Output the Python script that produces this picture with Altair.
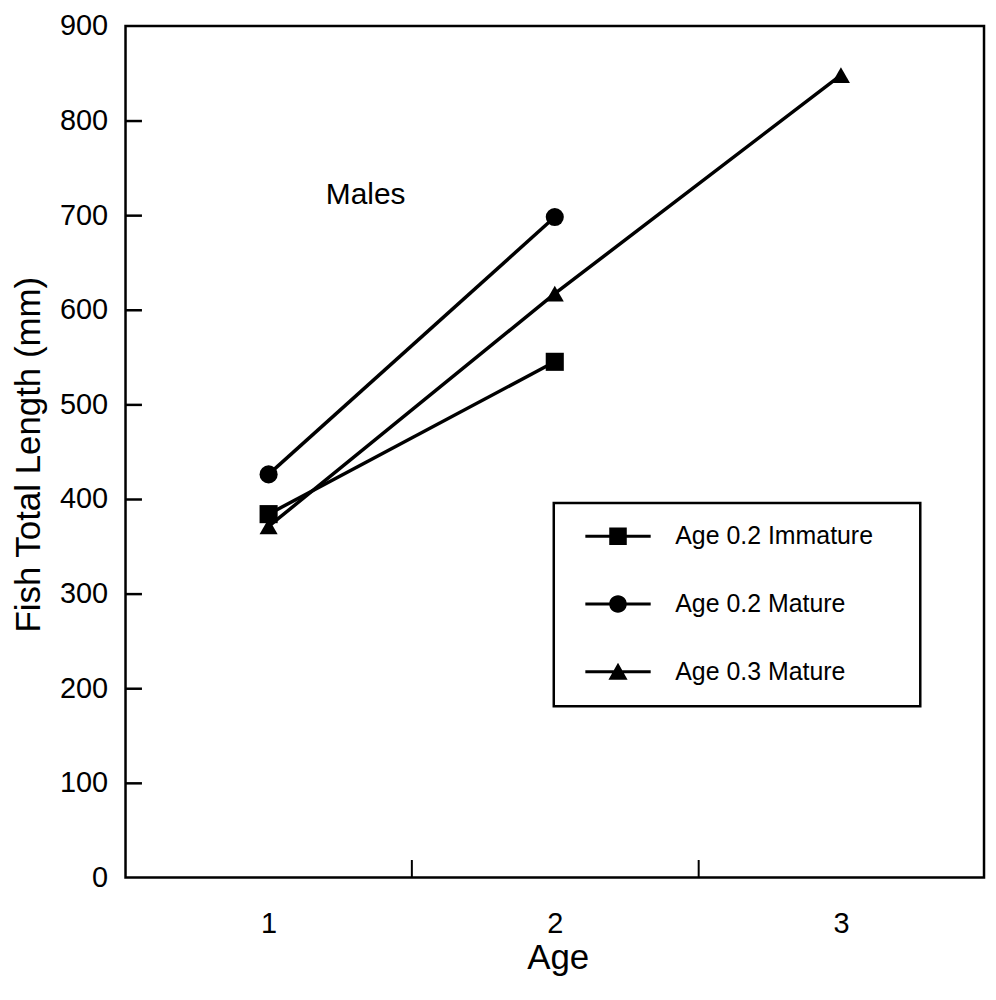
import altair as alt
import pandas as pd

SERIES = ["Age 0.2 Immature", "Age 0.2 Mature", "Age 0.3 Mature"]
AGE_IMM = [1, 2]
LEN_IMM = [384, 545]
AGE_M02 = [1, 2]
LEN_M02 = [426, 698]
AGE_M03 = [1, 2, 3]
LEN_M03 = [371, 617, 848]

X_LABELS = [1, 2, 3]
X_MINOR = [1.5, 2.5]
Y_TICKS = list(range(0, 1000, 100))
Y_INNER = list(range(100, 900, 100))

ANNOT_TEXT = ["Males"]
ANNOT_X = [1.2]
ANNOT_Y = [712]

rows = []
for name, xs, ys in zip(SERIES, [AGE_IMM, AGE_M02, AGE_M03], [LEN_IMM, LEN_M02, LEN_M03]):
    for a, l in zip(xs, ys):
        rows.append({"series": name, "age": a, "length": l})
df = pd.DataFrame(rows)
annot = pd.DataFrame({"label": ANNOT_TEXT, "age": ANNOT_X, "length": ANNOT_Y})

FONT = "Liberation Sans"
xscale = alt.Scale(domain=[0.5, 3.5], nice=False, zero=False)
yscale = alt.Scale(domain=[0, 900], nice=False, zero=False)

# legend glyph: line segment through marker; trailing move widens legend box
LINE = "M-4.1,-0.19H4.1V0.19H-4.1Z "
PAD = " M35.3,0"
LEGEND_PATHS = [
    LINE + "M-1.1,-1.1H1.1V1.1H-1.1Z" + PAD,
    LINE + "M-1.1,0A1.1,1.1 0 1,1 1.1,0A1.1,1.1 0 1,1 -1.1,0Z" + PAD,
    LINE + "M0,-1.15L1.2,1L-1.2,1Z" + PAD,
]

base = alt.Chart(df)

lines = base.mark_line(color="black", strokeWidth=3.5).encode(
    x=alt.X("age:Q", scale=xscale, axis=alt.Axis(
        values=X_LABELS, orient="bottom", title="Age", ticks=False, tickSize=0,
        domain=False, grid=False, format="d",
        labelFont=FONT, labelFontSize=29, labelPadding=32, labelColor="black",
        titleFont=FONT, titleFontSize=35, titleFontWeight="normal", titleColor="black",
        titleX=434, titleY=91, titleBaseline="alphabetic", titleAlign="center")),
    y=alt.Y("length:Q", scale=yscale, axis=alt.Axis(
        values=Y_TICKS, orient="left", title="Fish Total Length (mm)", ticks=False, tickSize=0,
        domain=False, grid=False, format="d",
        labelFont=FONT, labelFontSize=29, labelPadding=18, labelColor="black",
        titleFont=FONT, titleFontSize=35, titleFontWeight="normal", titleColor="black",
        titleX=-86, titleY=430, titleAngle=270, titleBaseline="alphabetic", titleAlign="center")),
    detail="series:N",
)

points = base.mark_point(filled=True, color="black", size=330, opacity=1).encode(
    x=alt.X("age:Q", scale=xscale, axis=None),
    y=alt.Y("length:Q", scale=yscale, axis=None),
    shape=alt.Shape("series:N", scale=alt.Scale(domain=SERIES, range=["square", "circle", "triangle-up"]),
                    legend=None),
)

males = alt.Chart(annot).mark_text(font=FONT, fontSize=30, align="left", baseline="alphabetic",
                                   color="black").encode(
    x=alt.X("age:Q", scale=xscale, axis=alt.Axis(
        values=X_MINOR, orient="bottom", labels=False, domain=False, grid=False,
        ticks=True, tickSize=18, tickWidth=2, tickColor="black", offset=-18, title=None)),
    y=alt.Y("length:Q", scale=yscale, axis=alt.Axis(
        values=Y_INNER, orient="left", labels=False, domain=False, grid=False,
        ticks=True, tickSize=16, tickWidth=2.5, tickColor="black", offset=-16, title=None)),
    text="label:N",
)

legend_layer = base.mark_point(filled=True, color="black", opacity=0, size=10).encode(
    x=alt.X("age:Q", scale=xscale, axis=None),
    y=alt.Y("length:Q", scale=yscale, axis=None),
    shape=alt.Shape("series:N", scale=alt.Scale(domain=SERIES, range=LEGEND_PATHS),
                    legend=alt.Legend(
                        title=None, orient="none", legendX=430, legendY=479, direction="vertical",
                        symbolSize=256, symbolOpacity=1, symbolFillColor="black",
                        symbolStrokeWidth=0, symbolOffset=31, labelOffset=45,
                        labelFont=FONT, labelFontSize=25, labelColor="black", labelLimit=500,
                        rowPadding=42, padding=21, strokeColor="black", fillColor="white")),
)

chart = alt.layer(lines, points, males, legend_layer).resolve_scale(
    shape="independent"
).resolve_axis(
    x="independent", y="independent"
).properties(
    width=862, height=855,
    autosize=alt.AutoSizeParams(type="none"),
    padding={"left": 118, "top": 16, "right": 4, "bottom": 110},
).configure_view(
    stroke="black", strokeWidth=2.5
).configure_legend(
    strokeWidth=2.5
)

chart.save("out.html", embed_options={"renderer": "svg", "actions": False})
